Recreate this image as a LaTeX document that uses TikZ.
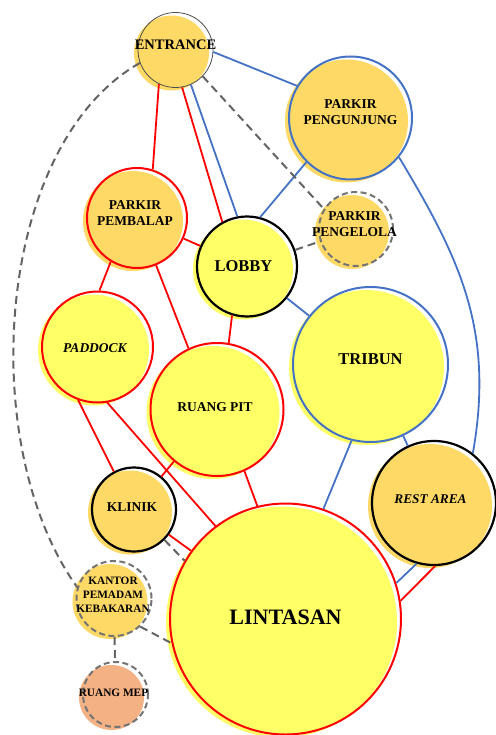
\documentclass[tikz,border=0pt]{standalone}
\usepackage{fontspec}
\setmainfont{Liberation Serif}
\usetikzlibrary{shadows}
\definecolor{roomgold}{RGB}{255,217,102}
\definecolor{roomyellow}{RGB}{255,255,102}
\definecolor{roomsalmon}{RGB}{244,177,131}
\definecolor{linkblue}{RGB}{68,114,196}
\definecolor{linkgrey}{RGB}{100,100,100}
\begin{document}
\begin{tikzpicture}[x=1pt, y=-1pt]
    \tikzstyle{every label}=[inner sep=0pt, align=center, font=\bfseries\fontsize{13.5}{16}\selectfont]
    \tikzstyle{room}=[circle, inner sep=0pt, line width=2pt]
    \tikzstyle{goldfill}=[general shadow={fill=roomgold, shadow xshift=-4pt, shadow yshift=-3pt}]
    \tikzstyle{yellowfill}=[general shadow={fill=roomyellow, shadow xshift=-4pt, shadow yshift=-3pt}]
    \tikzstyle{salmonfill}=[general shadow={fill=roomsalmon, shadow xshift=-4pt, shadow yshift=-3pt}]
    \tikzstyle{redline}=[draw=red]
    \tikzstyle{blueline}=[draw=linkblue]
    \tikzstyle{blackline}=[draw=black, line width=2.2pt]
    \tikzstyle{thinline}=[draw=black!70, line width=0.8pt]
    \tikzstyle{greyline}=[draw=linkgrey!90, dash pattern=on 6pt off 3.5pt]
    \tikzstyle{redlink}=[red, line width=1.8pt]
    \tikzstyle{bluelink}=[linkblue, line width=1.8pt]
    \tikzstyle{greylink}=[linkgrey, line width=2pt, dash pattern=on 8pt off 5pt]
    \useasboundingbox (0,0) rectangle (495,735);
    \node [room, thinline, goldfill, minimum size=75pt, label={[yshift=5pt, font=\bfseries\fontsize{14.5}{16}\selectfont]center:ENTRANCE}] (entrance) at (175.5,50) {};
    \node [room, blueline, goldfill, minimum size=123pt, label={[yshift=6pt]center:PARKIR\\PENGUNJUNG}] (pengunjung) at (350.5,118) {};
    \node [room, greyline, goldfill, minimum size=74pt, label={[xshift=-1.5pt, yshift=4.5pt]center:PARKIR\\PENGELOLA}] (pengelola) at (356,229) {};
    \node [room, redline, goldfill, minimum size=100pt, label={[xshift=-2pt, yshift=5pt]center:PARKIR\\PEMBALAP}] (pembalap) at (137,218) {};
    \node [room, blackline, yellowfill, minimum size=100pt, label={[xshift=-3.5pt, yshift=0.5pt, font=\bfseries\fontsize{16.5}{18}\selectfont]center:LOBBY}] (lobby) at (247,266.5) {};
    \node [room, blueline, yellowfill, minimum size=155pt, label={[yshift=5.5pt, font=\bfseries\fontsize{16.5}{18}\selectfont]center:TRIBUN}] (tribun) at (370.5,364.5) {};
    \node [room, redline, yellowfill, minimum size=111pt, label={[xshift=-2.5pt, yshift=-1pt, font=\bfseries\itshape\fontsize{13.5}{16}\selectfont]center:PADDOCK}] (paddock) at (97.5,347) {};
    \node [room, redline, yellowfill, minimum size=133pt, label={[xshift=-2pt, yshift=2.5pt]center:RUANG PIT}] (ruangpit) at (217,409.5) {};
    \node [room, blackline, goldfill, minimum size=84pt, label={[xshift=-2pt, yshift=2.5pt]center:KLINIK}] (klinik) at (134,509.5) {};
    \node [room, greyline, goldfill, minimum size=75pt, label={[xshift=-1pt, yshift=3.5pt, font=\bfseries\fontsize{11.3}{14}\selectfont]center:KANTOR\\PEMADAM\\KEBAKARAN}] (kantor) at (114,598.5) {};
    \node [room, greyline, salmonfill, minimum size=65pt, label={[xshift=-2pt, yshift=1.5pt, font=\bfseries\fontsize{11.3}{14}\selectfont]center:RUANG MEP}] (mep) at (115.5,694.5) {};
    \node [room, redline, yellowfill, minimum size=231pt, label={[yshift=2pt, font=\bfseries\fontsize{22}{24}\selectfont]center:LINTASAN}] (lintasan) at (285.5,619) {};
    \node [room, blackline, goldfill, minimum size=124pt, label={[xshift=-3.5pt, yshift=4pt, font=\bfseries\itshape\fontsize{13.3}{16}\selectfont]center:REST AREA}] (rest) at (434,503) {};
    \draw [redlink] (entrance.-116) -- (pembalap.72);
    \draw [redlink] (entrance.-80) -- (lobby.119);
    \draw [redlink] (pembalap) -- (lobby);
    \draw [redlink] (pembalap.-121) -- (paddock.88);
    \draw [redlink] (pembalap.-68) -- (ruangpit.115);
    \draw [redlink] (lobby.-107) -- (ruangpit.80);
    \draw [redlink] (paddock.-110) -- (klinik.118);
    \draw [redlink] (paddock.-80) -- (lintasan.127);
    \draw [redlink] (ruangpit) -- (klinik);
    \draw [redlink] (klinik) -- (lintasan);
    \draw [redlink] (ruangpit.-66.6) -- (lintasan.104);
    \draw [redlink] (rest.-89) -- (lintasan.9.5);
    \draw [bluelink] (entrance.-66) -- (lobby.101);
    \draw [bluelink] (entrance.-3) -- (pengunjung.149);
    \draw [bluelink] (pengunjung.-135) -- (lobby.75);
    \draw [bluelink] (pengunjung.-39) .. controls +(60,100) and +(22,-124) .. (rest.52);
    \draw [bluelink] (lobby) -- (tribun);
    \draw [bluelink] (tribun.-104) -- (lintasan.71);
    \draw [bluelink] (tribun) -- (rest);
    \draw [bluelink] (rest.-106) -- (lintasan.18);
    \draw [greylink] (entrance.-44) -- (pengelola.148);
    \draw [greylink] (lobby) -- (pengelola);
    \draw [greylink] (klinik.-45) -- (lintasan.150);
    \draw [greylink] (kantor.-47) -- (lintasan.-168.5);
    \draw [greylink] (kantor) -- (mep);
    \draw [greylink] (entrance.-160) .. controls +(-145,82) and +(-102,-142) .. (kantor.163);
\end{tikzpicture}
\end{document}
